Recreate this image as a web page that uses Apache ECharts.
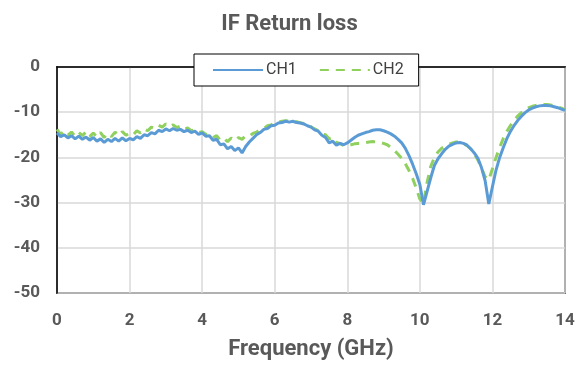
<!DOCTYPE html>
<html>
<head>
<meta charset="utf-8">
<script src="https://cdn.jsdelivr.net/npm/echarts@6/dist/echarts.min.js"></script>
<style>
html,body{margin:0;padding:0;background:#fff;}
#c{width:579px;height:365px;}
</style>
</head>
<body>
<div id="c"></div>
<script>
const titleText = 'IF Return loss';
const xName = 'Frequency (GHz)';
const seriesNames = ['CH1', 'CH2'];
const xTicks = [0, 2, 4, 6, 8, 10, 12, 14];
const yTicks = [-50, -40, -30, -20, -10, 0];

const freq = [
0.0,0.1,0.2,0.3,0.4,0.5,0.6,0.7,0.8,0.9,
1.0,1.1,1.2,1.3,1.4,1.5,1.6,1.7,1.8,1.9,
2.0,2.1,2.2,2.3,2.4,2.5,2.6,2.7,2.8,2.9,
3.0,3.1,3.2,3.3,3.4,3.5,3.6,3.7,3.8,3.9,
4.0,4.1,4.2,4.3,4.4,4.5,4.6,4.7,4.8,4.9,
5.0,5.1,5.2,5.3,5.4,5.5,5.6,5.7,5.8,5.9,
6.0,6.1,6.2,6.3,6.4,6.5,6.6,6.7,6.8,6.9,
7.0,7.1,7.2,7.3,7.4,7.5,7.6,7.7,7.8,7.9,
8.0,8.1,8.2,8.3,8.4,8.5,8.6,8.7,8.8,8.9,
9.0,9.1,9.2,9.3,9.4,9.5,9.6,9.7,9.8,9.9,
10.0,10.1,10.2,10.3,10.4,10.5,10.6,10.7,10.8,10.9,
11.0,11.1,11.2,11.3,11.4,11.5,11.6,11.7,11.8,11.9,
12.0,12.1,12.2,12.3,12.4,12.5,12.6,12.7,12.8,12.9,
13.0,13.1,13.2,13.3,13.4,13.5,13.6,13.7,13.8,13.9,
14.0
];

const ch1 = [
-14.6,-15.4,-15.0,-15.7,-15.2,-15.9,-15.3,-16.0,-15.5,-16.2,
-15.6,-16.4,-15.9,-16.7,-16.0,-16.5,-15.8,-16.4,-15.7,-16.3,
-15.8,-16.1,-15.4,-15.8,-15.0,-15.2,-14.5,-14.8,-14.0,-14.3,
-13.7,-14.1,-13.6,-14.0,-13.8,-14.3,-14.0,-14.5,-14.2,-14.9,
-14.6,-15.3,-15.2,-16.2,-16.0,-17.2,-17.0,-18.1,-17.6,-18.5,
-17.9,-19.0,-17.6,-16.6,-15.8,-15.0,-14.5,-13.8,-13.6,-13.0,
-12.9,-12.4,-12.3,-12.0,-12.2,-12.0,-12.3,-12.4,-12.6,-13.0,
-13.3,-13.9,-14.2,-15.1,-15.6,-16.8,-16.4,-17.3,-16.9,-17.2,
-16.8,-16.2,-15.6,-15.1,-14.8,-14.5,-14.3,-14.0,-13.9,-13.9,
-14.1,-14.4,-14.8,-15.3,-16.0,-16.8,-18.0,-19.6,-21.5,-23.6,
-26.0,-30.5,-27.5,-24.5,-21.8,-20.3,-19.2,-18.2,-17.5,-17.1,
-16.8,-16.7,-16.9,-17.3,-18.1,-19.0,-20.2,-22.3,-25.2,-30.3,
-26.5,-22.8,-20.0,-17.8,-15.8,-14.2,-12.9,-11.8,-10.9,-10.1,
-9.5,-9.1,-8.8,-8.6,-8.5,-8.5,-8.6,-8.8,-9.0,-9.3,
-9.6
];

const ch2 = [
-13.8,-14.9,-14.2,-15.1,-14.4,-15.3,-14.5,-15.2,-14.3,-15.4,
-14.6,-15.5,-14.5,-15.6,-14.7,-15.4,-14.4,-15.2,-14.3,-15.1,
-14.6,-15.0,-14.1,-14.6,-13.7,-14.1,-13.3,-13.6,-12.9,-13.3,
-12.6,-13.2,-12.8,-13.4,-13.1,-13.8,-13.5,-14.1,-13.9,-14.5,
-14.3,-14.9,-14.8,-15.6,-15.2,-16.2,-15.8,-16.5,-15.7,-16.3,
-15.6,-16.0,-15.2,-15.3,-14.7,-14.4,-13.8,-13.6,-13.0,-12.8,
-12.4,-12.2,-12.0,-11.9,-12.0,-11.9,-12.1,-12.3,-12.5,-12.9,
-13.2,-13.7,-14.1,-14.8,-15.0,-15.9,-15.6,-16.7,-16.9,-17.4,
-17.3,-17.2,-17.0,-16.9,-16.8,-16.7,-16.6,-16.5,-16.6,-16.7,
-16.9,-17.2,-17.8,-18.5,-19.3,-20.2,-21.4,-22.9,-24.6,-26.8,
-29.2,-30.2,-25.5,-22.0,-20.0,-18.8,-18.0,-17.5,-17.1,-16.8,
-16.6,-16.6,-16.9,-17.4,-18.1,-19.2,-20.6,-22.4,-24.3,-25.0,
-22.5,-20.0,-17.8,-15.8,-14.2,-12.9,-11.8,-10.8,-10.1,-9.5,
-9.0,-8.7,-8.5,-8.4,-8.3,-8.3,-8.4,-8.6,-8.8,-9.1,
-9.5
];

const chart = echarts.init(document.getElementById('c'));
const FONT = 'Roboto';
const GRAY = '#595959';

chart.setOption({
  animation: false,
  backgroundColor: '#fff',
  title: {
    text: titleText,
    left: 'center',
    top: 8,
    textStyle: { fontFamily: FONT, fontSize: 22, fontWeight: 'bold', color: GRAY }
  },
  legend: {
    data: seriesNames,
    left: 194,
    top: 54,
    padding: [8, 15, 8, 18],
    itemWidth: 50,
    itemHeight: 15,
    itemGap: 22,
    backgroundColor: '#fff',
    borderColor: '#000',
    borderWidth: 1,
    itemStyle: { opacity: 0 },
    textStyle: { fontFamily: FONT, fontSize: 16, color: '#404040', padding: [0, 0, 0, -2] }
  },
  grid: {
    left: 57, right: 14, top: 67, bottom: 66,
    show: true, borderColor: '#000', borderWidth: 1.5, backgroundColor: 'transparent'
  },
  xAxis: {
    type: 'value',
    min: xTicks[0], max: xTicks[xTicks.length - 1], interval: 2,
    name: xName,
    nameLocation: 'middle',
    nameGap: 45,
    nameTextStyle: { fontFamily: FONT, fontSize: 22, fontWeight: 'bold', color: GRAY },
    axisLine: { show: true, lineStyle: { color: '#000', width: 1.5 } },
    axisTick: { show: false },
    axisLabel: { fontFamily: FONT, fontSize: 17, fontWeight: 'bold', color: GRAY, margin: 19 },
    splitLine: { show: true, lineStyle: { color: '#d9d9d9', width: 1.5 } }
  },
  yAxis: {
    type: 'value',
    min: yTicks[0], max: yTicks[yTicks.length - 1], interval: 10,
    axisLine: { show: true, lineStyle: { color: '#000', width: 1.5 } },
    axisTick: { show: false },
    axisLabel: { fontFamily: FONT, fontSize: 17, fontWeight: 'bold', color: GRAY, margin: 17 },
    splitLine: { show: true, lineStyle: { color: '#d9d9d9', width: 1.5 } }
  },
  series: [
    {
      name: seriesNames[0],
      type: 'line',
      symbol: 'none',
      showSymbol: false,
      data: freq.map((f, i) => [f, ch1[i]]),
      lineStyle: { color: '#5b9bd5', width: 3 },
      itemStyle: { color: '#5b9bd5' },
      z: 3
    },
    {
      name: seriesNames[1],
      type: 'line',
      symbol: 'none',
      showSymbol: false,
      data: freq.map((f, i) => [f, ch2[i]]),
      lineStyle: { color: '#8fd05e', width: 3, type: [9, 7] },
      itemStyle: { color: '#8fd05e' },
      z: 2
    }
  ]
});
</script>
</body>
</html>
